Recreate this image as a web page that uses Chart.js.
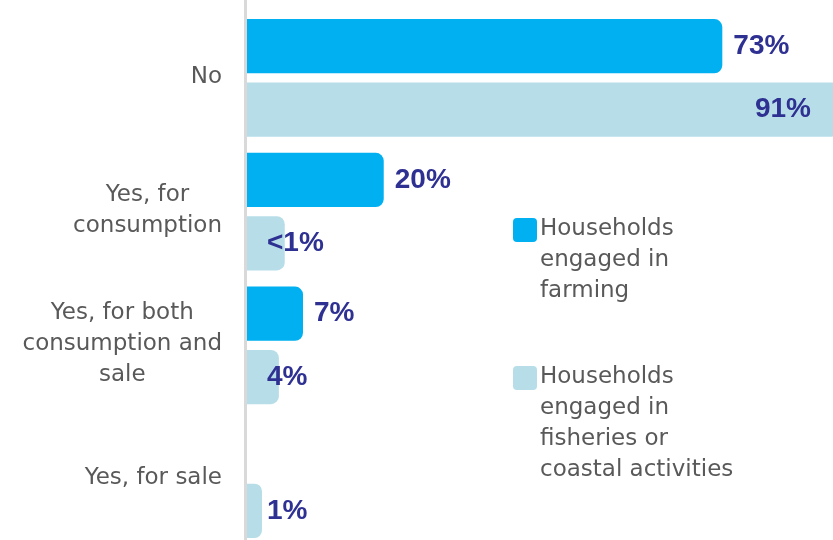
<!DOCTYPE html>
<html>
<head>
<meta charset="utf-8">
<script src="https://cdn.jsdelivr.net/npm/chart.js@4"></script>
<style>
	body { margin: 0; background: #fff; overflow: hidden; }
	#wrap { width: 833px; height: 546px; position: relative; }
</style>
</head>
<body>
<div id="wrap"><canvas id="farmChart"></canvas></div>
<script>
var categories = [["No"], ["Yes, for", "consumption"], ["Yes, for both", "consumption and", "sale"], ["Yes, for sale"]];
var seriesNames = [["Households", "engaged in", "farming"], ["Households", "engaged in", "fisheries or", "coastal activities"]];
// bar lengths as drawn in the picture
var farming = [73, 21, 8.6, 0];
var fisheries = [91, 5.8, 4.9, 2.3];
// printed labels
var farmingLabels = ["73%", "20%", "7%", ""];
var fisheriesLabels = ["91%", "<1%", "4%", "1%"];
var seriesColors = ["#00b0f0", "#b7dee8"];

function loadFarmChart () {
	var labelFont = '23px "DejaVu Sans"';
	var textGrey = '#595959';

	var extras = {
		id: 'extras',
		afterDatasetsDraw: function (chart) {
			var ctx = chart.ctx, area = chart.chartArea, yScale = chart.scales.y;
			ctx.save();

			// axis line, full height
			ctx.strokeStyle = '#d9d9d9';
			ctx.lineWidth = 3;
			ctx.beginPath();
			ctx.moveTo(area.left - 1.5, 0);
			ctx.lineTo(area.left - 1.5, chart.height);
			ctx.stroke();

			// category labels: block right aligned, lines centred
			ctx.font = labelFont;
			ctx.fillStyle = textGrey;
			ctx.textAlign = 'center';
			ctx.textBaseline = 'middle';
			categories.forEach(function (lines, i) {
				var yc = yScale.getPixelForTick(i) - 1;
				var w = Math.max.apply(null, lines.map(function (l) { return ctx.measureText(l).width; }));
				var cx = area.left - 25 - w / 2;
				lines.forEach(function (l, j) {
					ctx.fillText(l, cx, yc + (j - (lines.length - 1) / 2) * 31);
				});
			});

			// value labels
			ctx.font = 'bold 28px "Liberation Sans"';
			ctx.fillStyle = '#2e3192';
			[farmingLabels, fisheriesLabels].forEach(function (labels, d) {
				chart.getDatasetMeta(d).data.forEach(function (bar, i) {
					if (!labels[i]) return;
					var w = bar.x - bar.base;
					if (bar.x + 70 > area.right) {
						ctx.textAlign = 'right';
						ctx.fillText(labels[i], area.right - 22, bar.y);
					} else {
						ctx.textAlign = 'left';
						ctx.fillText(labels[i], w < 45 ? bar.base + 20 : bar.x + 11, bar.y);
					}
				});
			});

			// legend
			var tops = [218, 366];
			ctx.font = labelFont;
			ctx.textAlign = 'left';
			seriesNames.forEach(function (lines, d) {
				ctx.fillStyle = seriesColors[d];
				ctx.beginPath();
				ctx.roundRect(513, tops[d], 24, 24, 4);
				ctx.fill();
				ctx.fillStyle = textGrey;
				lines.forEach(function (l, j) {
					ctx.fillText(l, 540, tops[d] + 11 + j * 31);
				});
			});
			ctx.restore();
		}
	};

	var ctx = document.getElementById("farmChart");
	var farmChart = new Chart(ctx, {
		type: 'bar',
		data: {
			labels: categories.map(function (c) { return c.join(' '); }),
			datasets: [{
				label: seriesNames[0].join(' '),
				data: farming,
				backgroundColor: seriesColors[0],
				borderRadius: 8,
				borderSkipped: 'start'
			}, {
				label: seriesNames[1].join(' '),
				data: fisheries,
				backgroundColor: seriesColors[1],
				borderRadius: 8,
				borderSkipped: 'start'
			}]
		},
		options: {
			indexAxis: 'y',
			responsive: true,
			maintainAspectRatio: false,
			animation: false,
			categoryPercentage: 0.947,
			barPercentage: 0.857,
			layout: { padding: { top: 11, right: 0, bottom: 0, left: 0 } },
			plugins: {
				legend: { display: false },
				tooltip: { enabled: false }
			},
			scales: {
				x: { display: false, min: 0, max: 90 },
				y: {
					grid: { display: false },
					border: { display: false },
					ticks: { display: false },
					afterFit: function (scale) { scale.width = 247; }
				}
			}
		},
		plugins: [extras]
	});
}
window.addEventListener("load", function(){ loadFarmChart(); });
</script>
</body>
</html>
